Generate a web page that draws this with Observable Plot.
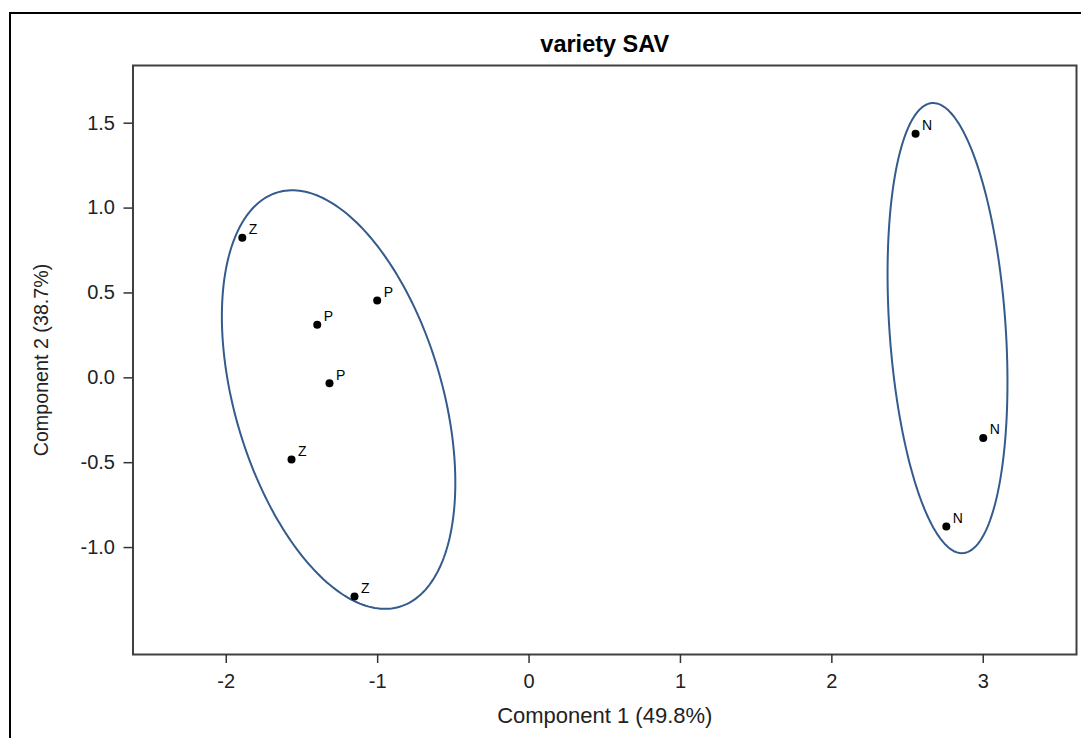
<!DOCTYPE html>
<html><head><meta charset="utf-8">
<script src="https://cdn.jsdelivr.net/npm/d3@7"></script>
<script src="https://cdn.jsdelivr.net/npm/@observablehq/plot@0.6"></script>
<style>
html,body{margin:0;padding:0;background:#fff;width:1081px;height:738px;overflow:hidden}
#wrap{position:relative;width:1081px;height:738px}
#border{position:absolute;left:9px;top:12px;right:-5px;bottom:-5px;border-left:2px solid #000;border-top:2px solid #000}
#chart{position:absolute;left:0;top:0}
</style></head><body>
<div id="wrap"><div id="border"></div><div id="chart"></div></div>
<script>
// ---- data ----
const title = "variety SAV";
const xLabel = "Component 1 (49.8%)";
const yLabel = "Component 2 (38.7%)";
const pointLabels = ["Z","P","P","P","Z","Z","N","N","N"];
const comp1 = [-1.894,-1.003,-1.399,-1.318,-1.569,-1.153,2.553,3.000,2.756];
const comp2 = [0.825,0.455,0.312,-0.032,-0.481,-1.289,1.438,-0.354,-0.876];
const xTicks = [-2,-1,0,1,2,3];
const yTicks = [-1,-0.5,0,0.5,1,1.5];
// ellipse parameters (data units): centre, half-width, half-height, correlation
const ellipseGroups = ["PZ","N"];
const ellipseCx = [-1.258, 2.764];
const ellipseCy = [-0.128, 0.293];
const ellipseRx = [0.771, 0.396];
const ellipseRy = [1.233, 1.326];
const ellipseR  = [-0.397, -0.24];

const points = pointLabels.map((l,i)=>({label:l, x:comp1[i], y:comp2[i]}));
const outline = [];
ellipseGroups.forEach((g,k)=>{
  const n = 240, s = Math.sqrt(1-ellipseR[k]*ellipseR[k]);
  for (let i=0;i<=n;i++){
    const t = 2*Math.PI*i/n;
    outline.push({g, x: ellipseCx[k] + ellipseRx[k]*Math.cos(t),
                     y: ellipseCy[k] + ellipseRy[k]*(ellipseR[k]*Math.cos(t) + s*Math.sin(t))});
  }
});

const font = "'Liberation Sans', Arial, sans-serif";
const chart = Plot.plot({
  width: 1081, height: 738,
  marginLeft: 132.5, marginTop: 65, marginRight: 5, marginBottom: 84,
  style: {fontFamily: font, background: "transparent", color: "#222", overflow: "visible"},
  x: {domain: [-2.616, 3.616]},
  y: {domain: [-1.63, 1.84]},
  marks: [
    Plot.line(outline, {x:"x", y:"y", z:"g", stroke:"#335b8c", strokeWidth:2, curve:"linear"}),
    Plot.dot(points, {x:"x", y:"y", r:4, fill:"#000", stroke:null}),
    Plot.text(points, {x:"x", y:"y", text:"label", dx:6.5, dy:-8, textAnchor:"start", lineAnchor:"middle", fontSize:14, fill:"#000"}),
    Plot.frame({stroke:"#404040", strokeWidth:2}),
    Plot.axisX({ticks:xTicks, tickFormat:d=>String(d), tickSize:9, tickPadding:10, fontSize:20, label:null, stroke:"#333", strokeWidth:1.5}),
    Plot.axisY({ticks:yTicks, tickFormat:d=>d.toFixed(1), tickSize:9, tickPadding:9, fontSize:20, label:null, stroke:"#333", strokeWidth:1.5}),
    Plot.text([title], {frameAnchor:"top", lineAnchor:"bottom", dy:-13.3, text:d=>d, fontSize:23.5, fontWeight:"bold", fill:"#000"}),
    Plot.text([xLabel], {frameAnchor:"bottom", textAnchor:"middle", lineAnchor:"bottom", dy:68, text:d=>d, fontSize:22, fill:"#222"}),
    Plot.text([yLabel], {frameAnchor:"left", textAnchor:"middle", lineAnchor:"bottom", rotate:-90, dx:-85, text:d=>d, fontSize:19.7, fill:"#222"})
  ]
});
document.getElementById("chart").appendChild(chart);
</script></body></html>
